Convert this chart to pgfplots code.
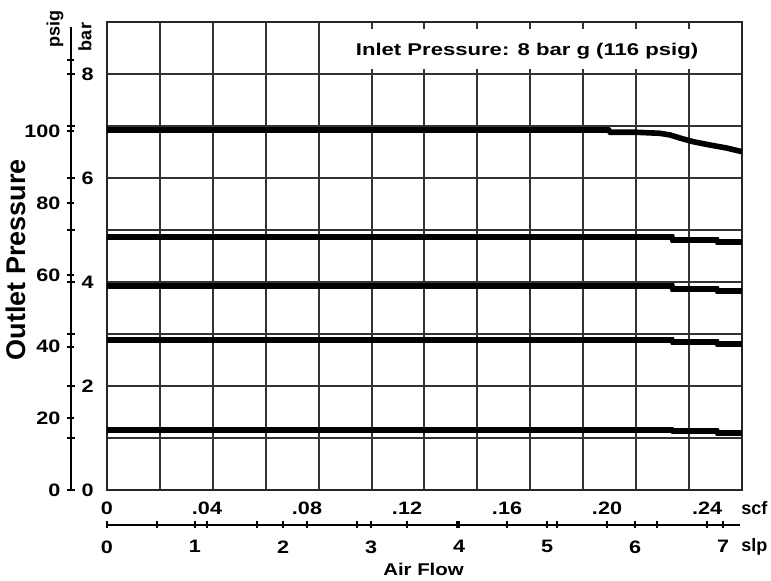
\documentclass[border=0pt]{standalone}
\usepackage{fontspec}
\setmainfont{Liberation Sans}
\newfontfamily\wide[FakeStretch=1.2]{Liberation Sans}
\newfontfamily\wider[FakeStretch=1.3]{Liberation Sans}
\usepackage{pgfplots}
\pgfplotsset{compat=1.18}
\begin{document}
\begin{tikzpicture}
\path[use as bounding box] (0,0) rectangle (385.5pt,-290.5pt);
\pgfplotsset{
  every axis/.append style={
    scale only axis,
    clip=false,
    /pgf/number format/assume math mode=true,
    tick style={black, line width=1pt},
    axis line style={-, black, line width=1pt},
    every outer x axis line/.append style={-},
    every outer y axis line/.append style={-},
    every inner x axis line/.append style={-},
    every inner y axis line/.append style={-},
    ticklabel style={font=\wide\bfseries\fontsize{9}{10}\selectfont},
    major tick length=3.5pt,
    tick align=outside,
  }
}
% main grid axis
\begin{axis}[
  at={(53.5pt,-245pt)}, anchor=south west,
  width=317.5pt, height=234pt,
  xmin=0, xmax=7.216, ymin=0, ymax=9,
  xtick={0,0.6013,1.2027,1.804,2.4053,3.0067,3.608,4.2093,4.8107,5.412,6.0133,6.6147,7.216},
  ytick={0,1,2,3,4,5,6,7,8,9},
  xticklabels={}, yticklabels={},
  major tick length=0pt,
  grid=major,
  major grid style={black!80, line width=1pt},
  axis line style={black!85, line width=1pt},
]
\fill[white] (axis cs:2.70,8.10) rectangle (axis cs:7.18,8.86);
\node[font=\wider\bfseries\fontsize{8.5}{10}\selectfont] at (axis cs:4.773,8.44) {Inlet Pressure: 8 bar g (116 psig)};
\addplot[black, line width=2.8pt] coordinates {
 (0,6.923) (5.70,6.923) (5.72,6.879) (6.02,6.879) (6.28,6.86) (6.40,6.827)
 (6.51,6.769) (6.66,6.698) (6.85,6.635) (7.04,6.577) (7.216,6.506)};
\addplot[black, line width=2.8pt] coordinates {
 (0,4.865) (6.42,4.865) (6.43,4.808) (6.93,4.808) (6.94,4.77) (7.216,4.77)};
\addplot[black, line width=2.8pt] coordinates {
 (0,3.923) (6.42,3.923) (6.43,3.865) (6.93,3.865) (6.94,3.827) (7.216,3.827)};
\addplot[black, line width=2.8pt] coordinates {
 (0,2.885) (6.42,2.885) (6.43,2.846) (6.93,2.846) (6.94,2.808) (7.216,2.808)};
\addplot[black, line width=2.8pt] coordinates {
 (0,1.154) (6.42,1.154) (6.43,1.135) (6.93,1.135) (6.94,1.096) (7.216,1.096)};
\end{axis}
% psig axis (left of line)
\begin{axis}[
  at={(35.5pt,-245pt)}, anchor=south west,
  width=10pt, height=231.5pt,
  xmin=0, xmax=1, ymin=0, ymax=129.14,
  axis y line=left, hide x axis,
  y axis line style={-},
  ytick={0,20,40,60,80,100,120},
  yticklabels={0,20,40,60,80,100,{}},
]
\node[xshift=-8pt, yshift=-1pt, rotate=90, font=\bfseries\fontsize{9}{10}\selectfont] at (rel axis cs:0,1) {psig};
\node[xshift=-27.5pt, yshift=-0.5pt, rotate=90, font=\bfseries\fontsize{13.5}{15}\selectfont] at (rel axis cs:0,0.5) {Outlet Pressure};
\end{axis}
% bar axis (right of line)
\begin{axis}[
  at={(35.5pt,-245pt)}, anchor=south east,
  width=10pt, height=231.5pt,
  xmin=0, xmax=1, ymin=0, ymax=8.904,
  axis y line=right, hide x axis,
  y axis line style={-},
  ytick={0,1,2,3,4,5,6,7,8},
  yticklabels={0,{},2,{},4,{},6,{},8},
]
\node[xshift=7pt, yshift=-5pt, rotate=90, font=\bfseries\fontsize{9}{10}\selectfont] at (rel axis cs:1,1) {bar};
\end{axis}
% scf axis (above line)
\begin{axis}[
  at={(53.5pt,-262.5pt)}, anchor=north west,
  width=316.5pt, height=10pt,
  xmin=0, xmax=0.2532, ymin=0, ymax=1,
  axis x line=top, hide y axis,
  x axis line style={-},
  xtick={0,0.02,0.04,0.06,0.08,0.10,0.12,0.14,0.16,0.18,0.20,0.22,0.24},
  xticklabels={0,{},.04,{},.08,{},.12,{},.16,{},.20,{},.24},
]
\node[xshift=0.5pt, yshift=8.5pt, anchor=west, inner sep=0pt, font=\bfseries\fontsize{9}{10}\selectfont] at (rel axis cs:1,1) {scf};
\end{axis}
% slp axis (below line)
\begin{axis}[
  at={(53.5pt,-262.5pt)}, anchor=south west,
  width=316.5pt, height=10pt,
  xmin=0, xmax=7.193, ymin=0, ymax=1,
  axis x line=bottom, hide y axis,
  x axis line style={-},
  xtick={0,1,2,3,4,5,6,7},
  xticklabels={0,1,2,3,4,5,6,7},
  xticklabel style={yshift=-2.5pt},
  xlabel={Air Flow},
  xlabel style={font=\wide\bfseries\fontsize{8.5}{10}\selectfont, yshift=2pt},
]
\node[xshift=0.5pt, yshift=-11pt, anchor=west, inner sep=0pt, font=\bfseries\fontsize{9}{10}\selectfont] at (rel axis cs:1,0) {slp};
\end{axis}
\end{tikzpicture}
\end{document}
